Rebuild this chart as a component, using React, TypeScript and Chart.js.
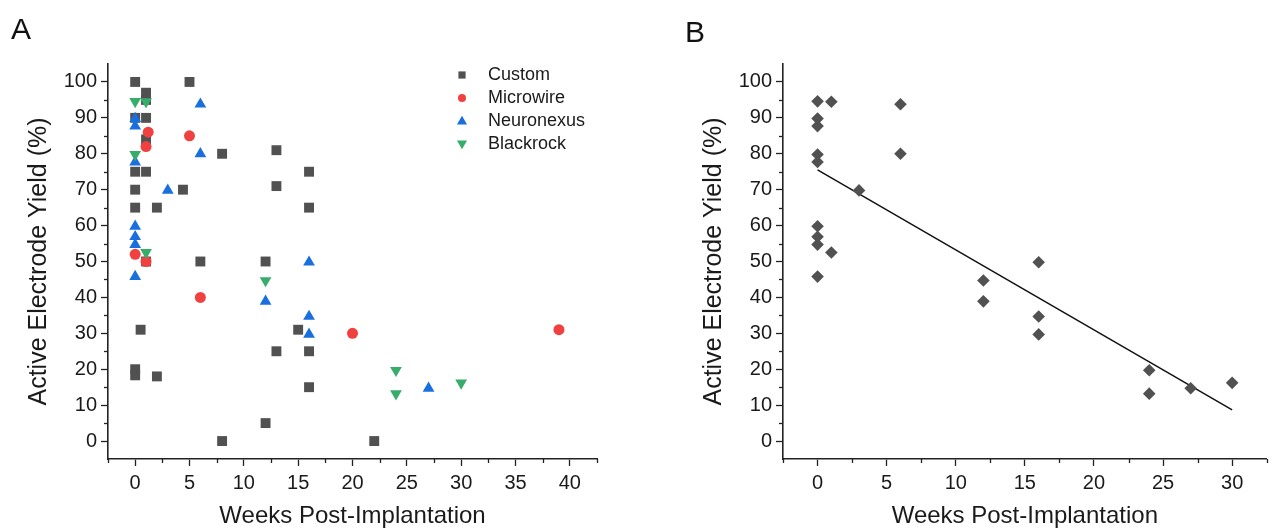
import React, { useEffect, useRef } from 'react';
import { Chart, registerables } from 'chart.js';

Chart.register(...registerables);

const FONT = '"Liberation Sans", Arial, Helvetica, sans-serif';
const AXIS = '#222222';
const TEXT = '#1a1a1a';

// ---------- Panel A data ----------
const customX = [0, 5, 1, 1, 0, 1, 1, 8, 13, 0, 1, 16, 0, 4.4, 13, 0, 2, 16, 1, 6, 12, 0.5, 15, 0, 0, 2, 13, 16, 16, 12, 8, 22];
const customY = [100, 100, 97, 95, 90, 90, 84, 80, 81, 75, 75, 75, 70, 70, 71, 65, 65, 65, 50, 50, 50, 31, 31, 20, 18.3, 18, 25, 25, 15, 5, 0, 0];

const microwireX = [1.2, 5, 1, 0, 1, 6, 20, 39];
const microwireY = [86, 85, 82, 52, 50, 40, 30, 31];

const neuronexusX = [0, 0, 0, 6, 6, 3, 0, 0, 0, 0, 12, 16, 16, 16, 27];
const neuronexusY = [89.8, 87.7, 77.7, 93.8, 80, 69.8, 59.8, 56.9, 54.7, 45.8, 38.9, 49.8, 34.7, 29.7, 14.7];

const blackrockX = [0, 1, 0, 1, 12, 24, 24, 30];
const blackrockY = [94.6, 94.5, 79.8, 52.5, 44.7, 19.7, 13.2, 16.2];

// ---------- Panel B data ----------
const commercialX = [0, 1, 0, 0, 6, 0, 0, 6, 3, 0, 0, 0, 1, 0, 12, 12, 16, 16, 16, 24, 24, 27, 30];
const commercialY = [94.6, 94.5, 89.8, 87.7, 93.8, 79.8, 77.7, 80, 69.8, 59.8, 56.9, 54.7, 52.5, 45.8, 44.7, 38.9, 49.8, 34.7, 29.7, 19.7, 13.2, 14.7, 16.2];

const fitX = [0, 30];
const fitY = [75.5, 8.7];

// ---------- Axis settings ----------
const yTitle = 'Active Electrode Yield (%)';
const xTitle = 'Weeks Post-Implantation';
const yMin = -5;
const yMax = 105;
const xMinA = -2.5;
const xMaxA = 42.5;
const xMinB = -2.5;
const xMaxB = 32.5;

const toPts = (xs: number[], ys: number[]) => xs.map((x, i) => ({ x, y: ys[i] }));

function isMajorX(v: number) {
  return Math.abs(v % 5) < 1e-9 && v >= 0;
}
function isMajorY(v: number) {
  return Math.abs(v % 10) < 1e-9 && v >= 0 && v <= 100;
}

const minorTicksPlugin = {
  id: 'minorTicks',
  afterDraw(chart: any) {
    const ctx = chart.ctx;
    const xs = chart.scales.x;
    const ys = chart.scales.y;
    ctx.save();
    ctx.strokeStyle = AXIS;
    ctx.lineWidth = 1.3;
    xs.ticks.forEach((t: any) => {
      const v = t.value;
      if (isMajorX(v)) return;
      const px = Math.round(xs.getPixelForValue(v)) + 0.5;
      ctx.beginPath();
      ctx.moveTo(px, xs.top);
      ctx.lineTo(px, xs.top + 4);
      ctx.stroke();
    });
    ys.ticks.forEach((t: any) => {
      const v = t.value;
      if (isMajorY(v) || v <= yMin || v >= yMax) return;
      const py = Math.round(ys.getPixelForValue(v)) + 0.5;
      ctx.beginPath();
      ctx.moveTo(ys.right, py);
      ctx.lineTo(ys.right - 4, py);
      ctx.stroke();
    });
    ctx.restore();
  },
};

function drawMarker(ctx: CanvasRenderingContext2D, style: string, rot: number, x: number, y: number, r: number) {
  ctx.beginPath();
  if (style === 'rect') {
    ctx.rect(x - r, y - r, 2 * r, 2 * r);
  } else if (style === 'circle') {
    ctx.arc(x, y, r, 0, Math.PI * 2);
  } else if (style === 'triangle') {
    const s = rot ? -1 : 1;
    ctx.moveTo(x, y - s * r * 1.15);
    ctx.lineTo(x + r * 1.1, y + s * r * 0.75);
    ctx.lineTo(x - r * 1.1, y + s * r * 0.75);
    ctx.closePath();
  }
  ctx.fill();
}

const legendPlugin = {
  id: 'panelLegend',
  afterDraw(chart: any, _args: any, opts: any) {
    if (!opts || !opts.show) return;
    const ctx = chart.ctx;
    ctx.save();
    chart.data.datasets.forEach((ds: any, i: number) => {
      const y = opts.y + i * opts.gap;
      ctx.fillStyle = ds.backgroundColor;
      const style = ds.pointStyle;
      const r = style === 'rect' ? 3.6 : style === 'circle' ? 4 : 4.6;
      drawMarker(ctx, style, ds.rotation || 0, opts.x, y, r);
      ctx.fillStyle = TEXT;
      ctx.font = `18px ${FONT}`;
      ctx.textBaseline = 'middle';
      ctx.textAlign = 'left';
      ctx.fillText(ds.label, opts.textX, y);
    });
    ctx.restore();
  },
};

function makeScales(xMin: number, xMax: number) {
  return {
    x: {
      type: 'linear',
      min: xMin,
      max: xMax,
      afterFit: (s: any) => {
        s.height = 72;
      },
      ticks: {
        stepSize: 2.5,
        autoSkip: false,
        maxRotation: 0,
        includeBounds: true,
        maxTicksLimit: 200,
        padding: 5,
        color: TEXT,
        font: { family: FONT, size: 20 },
        callback: (v: any) => (isMajorX(Number(v)) ? String(v) : ''),
      },
      grid: {
        drawOnChartArea: false,
        drawTicks: true,
        tickLength: 7,
        tickWidth: 1.3,
        tickColor: (c: any) => (c.tick && isMajorX(c.tick.value) ? AXIS : 'rgba(0,0,0,0)'),
      },
      border: { display: true, color: AXIS, width: 1.6 },
      title: {
        display: true,
        text: xTitle,
        color: TEXT,
        font: { family: FONT, size: 24 },
        padding: { top: 0, bottom: 0 },
      },
    },
    y: {
      type: 'linear',
      min: yMin,
      max: yMax,
      afterFit: (s: any) => {
        s.width = 108;
      },
      ticks: {
        stepSize: 5,
        autoSkip: false,
        maxTicksLimit: 200,
        padding: 4,
        color: TEXT,
        font: { family: FONT, size: 20 },
        callback: (v: any) => (isMajorY(Number(v)) ? String(v) : ''),
      },
      grid: {
        drawOnChartArea: false,
        drawTicks: true,
        tickLength: 7,
        tickWidth: 1.3,
        tickColor: (c: any) => (c.tick && isMajorY(c.tick.value) ? AXIS : 'rgba(0,0,0,0)'),
      },
      border: { display: true, color: AXIS, width: 1.6 },
      title: {
        display: true,
        text: yTitle,
        color: TEXT,
        font: { family: FONT, size: 25 },
        padding: { top: 24, bottom: 0 },
      },
    },
  };
}

function PanelA() {
  const ref = useRef<HTMLCanvasElement>(null);
  useEffect(() => {
    if (!ref.current) return;
    const chart = new Chart(ref.current, {
      type: 'scatter',
      data: {
        datasets: [
          {
            label: 'Custom',
            data: toPts(customX, customY),
            pointStyle: 'rect',
            pointRadius: 7,
            backgroundColor: '#515151',
            borderWidth: 0,
            order: 4,
          },
          {
            label: 'Microwire',
            data: toPts(microwireX, microwireY),
            pointStyle: 'circle',
            pointRadius: 5.5,
            backgroundColor: '#F14040',
            borderWidth: 0,
            order: 3,
          },
          {
            label: 'Neuronexus',
            data: toPts(neuronexusX, neuronexusY),
            pointStyle: 'triangle',
            pointRadius: 6.8,
            backgroundColor: '#1A6FDF',
            borderWidth: 0,
            order: 2,
          },
          {
            label: 'Blackrock',
            data: toPts(blackrockX, blackrockY),
            pointStyle: 'triangle',
            rotation: 180,
            pointRadius: 6.8,
            backgroundColor: '#37AD6B',
            borderWidth: 0,
            order: 1,
          },
        ],
      } as any,
      options: {
        animation: false,
        responsive: false,
        maintainAspectRatio: false,
        events: [],
        layout: { padding: { left: 0, top: 64, right: 78, bottom: 0 } },
        scales: makeScales(xMinA, xMaxA) as any,
        plugins: {
          legend: { display: false },
          tooltip: { enabled: false },
          panelLegend: { show: true, x: 462, textX: 488, y: 75, gap: 23 },
        } as any,
      },
      plugins: [minorTicksPlugin, legendPlugin],
    });
    return () => chart.destroy();
  }, []);
  return <canvas ref={ref} width={675} height={531} style={{ position: 'absolute', left: 0, top: 0, width: 675, height: 531 }} />;
}

function PanelB() {
  const ref = useRef<HTMLCanvasElement>(null);
  useEffect(() => {
    if (!ref.current) return;
    const chart = new Chart(ref.current, {
      type: 'scatter',
      data: {
        datasets: [
          {
            type: 'line',
            label: 'Linear fit',
            data: toPts(fitX, fitY),
            borderColor: '#111111',
            borderWidth: 1.5,
            pointRadius: 0,
            fill: false,
            order: 2,
          },
          {
            label: 'Commercial',
            data: toPts(commercialX, commercialY),
            pointStyle: 'rectRot',
            pointRadius: 6.3,
            backgroundColor: '#515151',
            borderWidth: 0,
            order: 1,
          },
        ],
      } as any,
      options: {
        animation: false,
        responsive: false,
        maintainAspectRatio: false,
        events: [],
        layout: { padding: { left: 0, top: 64, right: 2, bottom: 0 } },
        scales: makeScales(xMinB, xMaxB) as any,
        plugins: {
          legend: { display: false },
          tooltip: { enabled: false },
          panelLegend: { show: false },
        } as any,
      },
      plugins: [minorTicksPlugin, legendPlugin],
    });
    return () => chart.destroy();
  }, []);
  return <canvas ref={ref} width={598} height={531} style={{ position: 'absolute', left: 675, top: 0, width: 598, height: 531 }} />;
}

export default function App() {
  useEffect(() => {
    document.body.style.margin = '0';
  }, []);
  const letter: React.CSSProperties = {
    position: 'absolute',
    fontFamily: FONT,
    fontSize: 30,
    lineHeight: '30px',
    color: '#111',
  };
  return (
    <div style={{ position: 'fixed', left: 0, top: 0, width: 1273, height: 531, background: '#fff', overflow: 'hidden' }}>
      <PanelA />
      <PanelB />
      <div style={{ ...letter, left: 11, top: 14 }}>A</div>
      <div style={{ ...letter, left: 685, top: 17 }}>B</div>
    </div>
  );
}
